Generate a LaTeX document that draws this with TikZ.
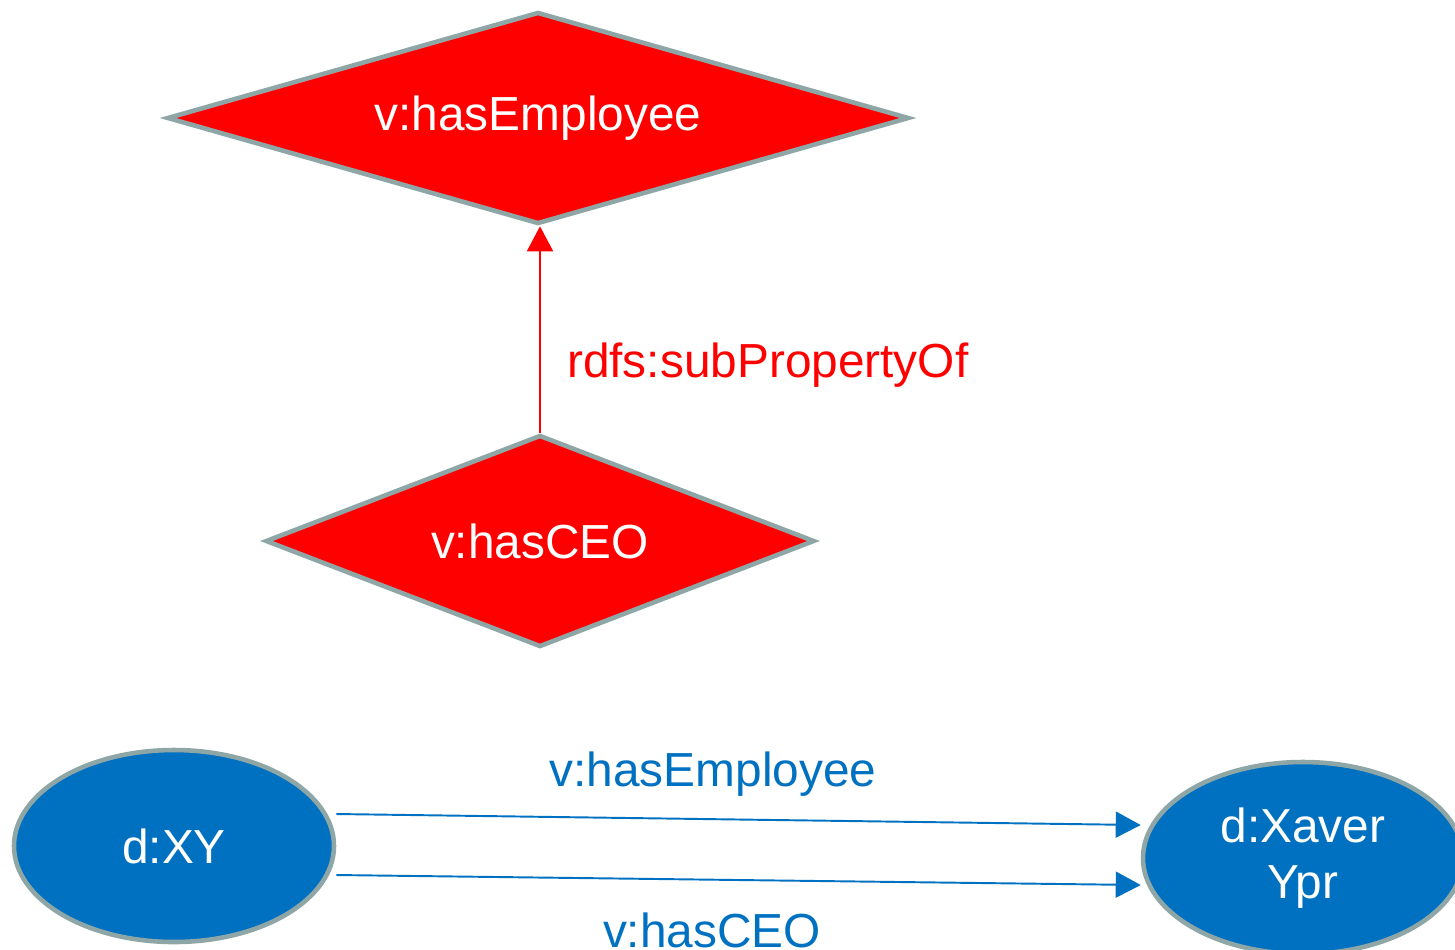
\documentclass[tikz,border=0pt]{standalone}
\usepackage{fontspec}
\setmainfont{Liberation Sans}
\usepackage{xcolor}
\usepackage{tikz}
\usetikzlibrary{shapes.geometric,arrows.meta}
\definecolor{propred}{HTML}{FF0000}
\definecolor{resblue}{HTML}{0070C0}
\definecolor{rim}{HTML}{8FA6A7}
\tikzset{
  prop/.style={diamond, fill=propred, draw=rim, line width=2.6pt, text=white, font=\fontsize{27.2}{32}\selectfont, inner sep=0pt},
  res/.style={ellipse, fill=resblue, draw=rim, line width=2.6pt, text=white, font=\fontsize{27.2}{32}\selectfont, align=center, minimum width=6.4cm, minimum height=3.84cm, inner sep=0pt},
  subof/.style={draw=propred, line width=1.1pt, -{Triangle[width=0.52cm,length=0.5cm]}},
  rel/.style={draw=resblue, line width=1.1pt, -{Triangle[width=0.52cm,length=0.5cm]}},
  redlab/.style={text=propred, font=\fontsize{27.2}{32}\selectfont},
  bluelab/.style={text=resblue, font=\fontsize{27.2}{32}\selectfont},
}
\begin{document}
\begin{tikzpicture}
\useasboundingbox (0,0) rectangle (29.1,-18.98);
% property hierarchy
\node[prop, aspect=3.5, minimum width=14.84cm, minimum height=4.24cm] (emp) at (10.76,-2.36) {\raisebox{-0.1cm}{v:hasEmployee}};
\node[prop, aspect=2.59, minimum width=10.98cm, minimum height=4.24cm] (ceo) at (10.80,-10.82) {v:hasCEO};
\draw[subof] (ceo.north) -- (ceo.north |- emp.south);
\node[redlab, anchor=west] (sublab) at (11.22,-7.3) {rdfs:subPropertyOf};
% instance level
\node[res] (xy) at (3.48,-16.92) {d:XY};
\node[res] (xaver) at (26.06,-17.16) {\raisebox{-0.08cm}{d:Xaver}\\\raisebox{-0.08cm}{Ypr}};
\draw[rel] ([yshift=0.64cm]xy.east) -- ([yshift=0.66cm]xaver.west);
\draw[rel] ([yshift=-0.58cm]xy.east) -- ([yshift=-0.54cm]xaver.west);
\node[bluelab] (emplab) at (14.26,-15.48) {v:hasEmployee};
\node[bluelab] (ceolab) at (14.24,-18.6) {v:hasCEO};
\end{tikzpicture}
\end{document}
